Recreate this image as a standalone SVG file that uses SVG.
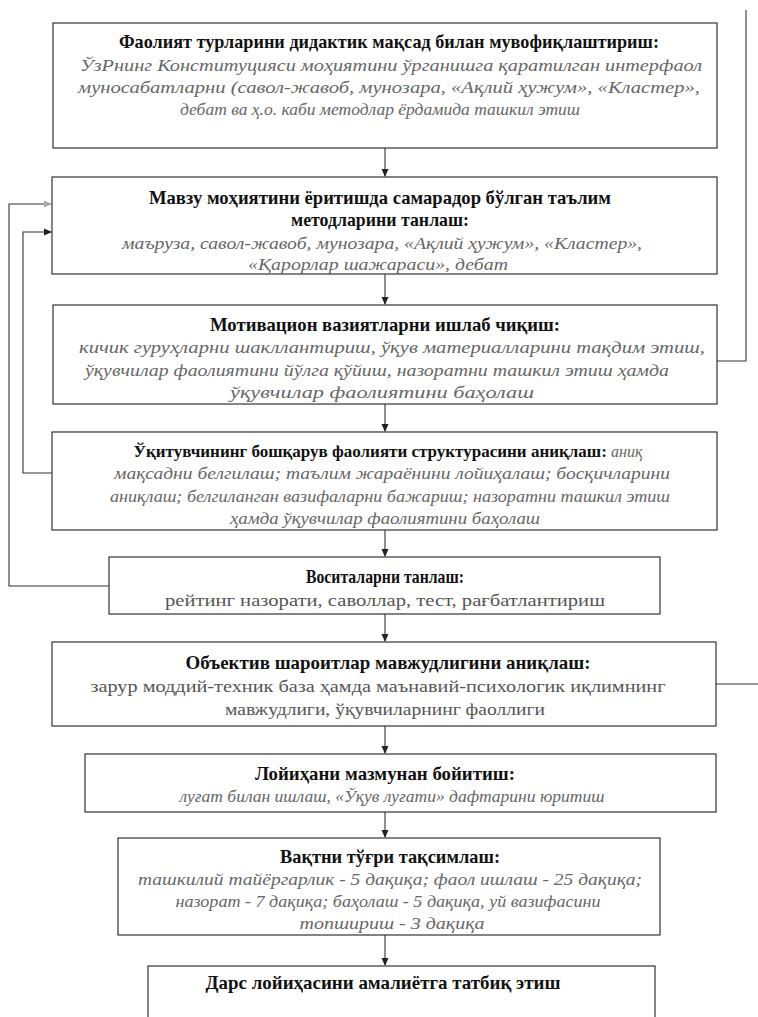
<svg xmlns="http://www.w3.org/2000/svg" width="758" height="1017" viewBox="0 0 758 1017">
<defs>
<style>
.box{fill:#fff;stroke:#333;stroke-width:1.2}
.t{font-family:"Liberation Serif","Times New Roman",serif;font-size:19px;font-weight:bold;fill:#111;text-anchor:middle}
.i{font-family:"Liberation Serif","Times New Roman",serif;font-size:17px;font-style:italic;fill:#666;text-anchor:middle}
.r{font-family:"Liberation Serif","Times New Roman",serif;font-size:17px;fill:#555;text-anchor:middle}
.c{fill:none;stroke:#333;stroke-width:1.1}
</style>
<marker id="ah" markerWidth="8" markerHeight="8" refX="7" refY="4" orient="auto" markerUnits="userSpaceOnUse">
<path d="M0,0.5 L8,4 L0,7.5 Z" fill="#222"/>
</marker>
<marker id="ahf" markerWidth="8" markerHeight="8" refX="7" refY="4" orient="auto" markerUnits="userSpaceOnUse">
<path d="M0,0.5 L8,4 L0,7.5 Z" fill="#aaa"/>
</marker>
</defs>
<rect width="758" height="1017" fill="#fff"/>
<g id="connectors">
<line class="c" x1="385" y1="148" x2="385" y2="176" marker-end="url(#ah)"/>
<line class="c" x1="385" y1="274" x2="385" y2="304" marker-end="url(#ah)"/>
<line class="c" x1="385" y1="404" x2="385" y2="431" marker-end="url(#ah)"/>
<line class="c" x1="385" y1="530" x2="385" y2="556" marker-end="url(#ah)"/>
<line class="c" x1="385" y1="614" x2="385" y2="641" marker-end="url(#ah)"/>
<line class="c" x1="385" y1="726" x2="385" y2="753" marker-end="url(#ah)"/>
<line class="c" x1="385" y1="812" x2="385" y2="837" marker-end="url(#ah)"/>
<line class="c" x1="385" y1="935" x2="385" y2="965" marker-end="url(#ah)"/>
<polyline class="c" points="109,586 9,586 9,204 51,204" marker-end="url(#ahf)"/>
<polyline class="c" points="52,473 23,473 23,232 51,232" marker-end="url(#ah)"/>
<polyline class="c" points="746,10 746,361 717,361"/>
<line class="c" x1="716" y1="684" x2="758" y2="684"/>
</g>
<g id="n1">
<rect class="box" x="53" y="23" width="664" height="125"/>
<text class="t" x="389" y="48" textLength="540" lengthAdjust="spacingAndGlyphs">Фаолият турларини дидактик мақсад билан мувофиқлаштириш:</text>
<text class="i" x="391" y="71" textLength="622" lengthAdjust="spacingAndGlyphs">ЎзРнинг Конституцияси моҳиятини ўрганишга қаратилган интерфаол</text>
<text class="i" x="389" y="93" textLength="622" lengthAdjust="spacingAndGlyphs">муносабатларни (савол-жавоб, мунозара, «Ақлий ҳужум», «Кластер»,</text>
<text class="i" x="380" y="115" textLength="400" lengthAdjust="spacingAndGlyphs">дебат ва ҳ.о. каби методлар ёрдамида ташкил этиш</text>
</g>
<g id="n2">
<rect class="box" x="52" y="177" width="665" height="97"/>
<text class="t" x="380" y="204" textLength="462" lengthAdjust="spacingAndGlyphs">Мавзу моҳиятини ёритишда самарадор бўлган таълим</text>
<text class="t" x="380" y="226" textLength="178" lengthAdjust="spacingAndGlyphs">методларини танлаш:</text>
<text class="i" x="382" y="249" textLength="520" lengthAdjust="spacingAndGlyphs">маъруза, савол-жавоб, мунозара, «Ақлий ҳужум», «Кластер»,</text>
<text class="i" x="378" y="270" textLength="260" lengthAdjust="spacingAndGlyphs">«Қарорлар шажараси», дебат</text>
</g>
<g id="n3">
<rect class="box" x="53" y="305" width="664" height="99"/>
<text class="t" x="385" y="331" textLength="350" lengthAdjust="spacingAndGlyphs">Мотивацион вазиятларни ишлаб чиқиш:</text>
<text class="i" x="392" y="353" textLength="626" lengthAdjust="spacingAndGlyphs">кичик гуруҳларни шакллантириш, ўқув материалларини тақдим этиш,</text>
<text class="i" x="377" y="376" textLength="584" lengthAdjust="spacingAndGlyphs">ўқувчилар фаолиятини йўлга қўйиш, назоратни ташкил этиш ҳамда</text>
<text class="i" x="382" y="398" textLength="304" lengthAdjust="spacingAndGlyphs">ўқувчилар фаолиятини баҳолаш</text>
</g>
<g id="n4">
<rect class="box" x="52" y="432" width="665" height="98"/>
<text class="t" x="388" y="457" font-size="17px" style="font-size:17px">Ўқитувчининг бошқарув фаолияти структурасини аниқлаш: <tspan font-size="16px" font-weight="normal" font-style="italic" fill="#666">аниқ</tspan></text>
<text class="i" x="392" y="479" textLength="556" lengthAdjust="spacingAndGlyphs">мақсадни белгилаш; таълим жараёнини лойиҳалаш; босқичларини</text>
<text class="i" x="390" y="502" textLength="560" lengthAdjust="spacingAndGlyphs">аниқлаш; белгиланган вазифаларни бажариш; назоратни ташкил этиш</text>
<text class="i" x="385" y="524" textLength="310" lengthAdjust="spacingAndGlyphs">ҳамда ўқувчилар фаолиятини баҳолаш</text>
</g>
<g id="n5">
<rect class="box" x="109" y="557" width="551" height="57"/>
<text class="t" x="385" y="583" textLength="158" lengthAdjust="spacingAndGlyphs">Воситаларни танлаш:</text>
<text class="r" x="385" y="606" textLength="440" lengthAdjust="spacingAndGlyphs">рейтинг назорати, саволлар, тест, рағбатлантириш</text>
</g>
<g id="n6">
<rect class="box" x="52" y="642" width="664" height="84"/>
<text class="t" x="388" y="669" textLength="405" lengthAdjust="spacingAndGlyphs">Объектив шароитлар мавжудлигини аниқлаш:</text>
<text class="r" x="378" y="692" textLength="575" lengthAdjust="spacingAndGlyphs">зарур моддий-техник база ҳамда маънавий-психологик иқлимнинг</text>
<text class="r" x="385" y="715" textLength="320" lengthAdjust="spacingAndGlyphs">мавжудлиги, ўқувчиларнинг фаоллиги</text>
</g>
<g id="n7">
<rect class="box" x="85" y="754" width="631" height="58"/>
<text class="t" x="385" y="780" textLength="260" lengthAdjust="spacingAndGlyphs">Лойиҳани мазмунан бойитиш:</text>
<text class="i" x="392" y="802" textLength="425" lengthAdjust="spacingAndGlyphs">луғат билан ишлаш, «Ўқув луғати» дафтарини юритиш</text>
</g>
<g id="n8">
<rect class="box" x="118" y="838" width="542" height="97"/>
<text class="t" x="390" y="863" textLength="220" lengthAdjust="spacingAndGlyphs">Вақтни тўғри тақсимлаш:</text>
<text class="i" x="390" y="885" textLength="504" lengthAdjust="spacingAndGlyphs">ташкилий тайёргарлик - 5 дақиқа; фаол ишлаш - 25 дақиқа;</text>
<text class="i" x="388" y="907" textLength="425" lengthAdjust="spacingAndGlyphs">назорат - 7 дақиқа; баҳолаш - 5 дақиқа, уй вазифасини</text>
<text class="i" x="392" y="929" textLength="185" lengthAdjust="spacingAndGlyphs">топшириш - 3 дақиқа</text>
</g>
<g id="n9">
<rect class="box" x="148" y="966" width="507" height="70"/>
<text class="t" x="383" y="989" textLength="355" lengthAdjust="spacingAndGlyphs">Дарс лойиҳасини амалиётга татбиқ этиш</text>
</g>
</svg>
